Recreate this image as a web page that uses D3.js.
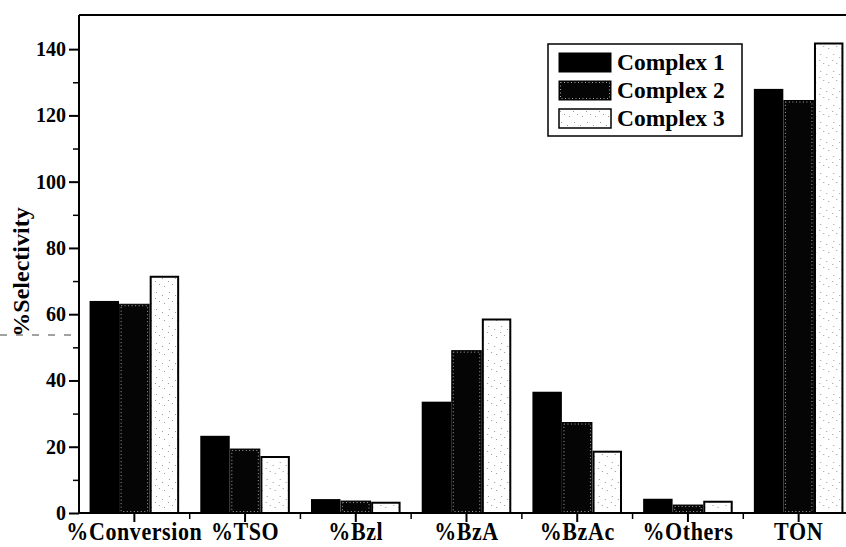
<!DOCTYPE html>
<html>
<head>
<meta charset="utf-8">
<script src="https://cdn.jsdelivr.net/npm/d3@7/dist/d3.min.js"></script>
<style>
  html, body { margin: 0; padding: 0; background: #fff; }
  svg { display: block; }
  text { font-family: "Liberation Serif", "Times New Roman", serif; font-weight: bold; fill: #000; }
</style>
</head>
<body>
<svg id="chart" width="846" height="547"></svg>
<script>
// Selectivity / conversion results for the three complexes
const categories = ["%Conversion", "%TSO", "%Bzl", "%BzA", "%BzAc", "%Others", "TON"];
const seriesNames = ["Complex 1", "Complex 2", "Complex 3"];
const complex1 = [64, 23.3, 4.2, 33.6, 36.6, 4.3, 128];
const complex2 = [63, 19.3, 3.6, 49, 27.3, 2.4, 124.5];
const complex3 = [71.6, 17.2, 3.4, 58.7, 18.8, 3.7, 142];
const yTicks = [0, 20, 40, 60, 80, 100, 120, 140];
const yMinorTicks = [10, 30, 50, 70, 90, 110, 130];

const series = [complex1, complex2, complex3];

const svg = d3.select("#chart");
const plotLeft = 79, plotRight = 854, plotTop = 16, plotBottom = 513;

const x0 = d3.scaleBand().domain(categories).range([plotLeft, plotRight])
  .paddingInner(0.18).paddingOuter(0.09);
const x1 = d3.scaleBand().domain(seriesNames).range([0, x0.bandwidth()]).padding(0.02);
const y = d3.scaleLinear().domain([0, 150]).range([plotBottom, plotTop]);

// speckled fill for the light bars
const defs = svg.append("defs");
const pat = defs.append("pattern").attr("id", "speck")
  .attr("width", 13).attr("height", 17).attr("patternUnits", "userSpaceOnUse");
pat.append("rect").attr("width", 13).attr("height", 17).attr("fill", "#fff");
[[2, 3], [8, 6], [5, 12], [10, 14], [1, 9]].forEach(([cx, cy]) =>
  pat.append("rect").attr("x", cx).attr("y", cy).attr("width", 1).attr("height", 1).attr("fill", "#999"));

// bars
const groups = svg.append("g").selectAll("g")
  .data(categories).join("g")
  .attr("transform", c => `translate(${x0(c)},0)`);

groups.each(function (c, ci) {
  const g = d3.select(this);
  seriesNames.forEach((s, si) => {
    const v = series[si][ci];
    const bx = x1(s), bw = x1.bandwidth();
    const by = y(v), bh = y(0) - y(v);
    if (si === 0) {
      g.append("rect").attr("x", bx).attr("y", by).attr("width", bw).attr("height", bh)
        .attr("fill", "#000");
    } else if (si === 1) {
      g.append("rect").attr("x", bx).attr("y", by).attr("width", bw).attr("height", bh)
        .attr("fill", "#050505").attr("stroke", "#000").attr("stroke-width", 1);
      if (bh > 5) {
        g.append("rect").attr("x", bx + 1.5).attr("y", by + 1.5)
          .attr("width", Math.max(bw - 3, 0)).attr("height", Math.max(bh - 3, 0))
          .attr("fill", "none").attr("stroke", "#cfcfcf").attr("stroke-width", 0.8)
          .attr("stroke-dasharray", "1,2.5");
      }
    } else {
      g.append("rect").attr("x", bx + 1).attr("y", by + 1).attr("width", bw - 2).attr("height", Math.max(bh - 1, 0))
        .attr("fill", "url(#speck)").attr("stroke", "#000").attr("stroke-width", 2);
    }
  });
});

// frame: top border
svg.append("line").attr("x1", plotLeft).attr("x2", 846).attr("y1", plotTop - 1).attr("y2", plotTop - 1)
  .attr("stroke", "#000").attr("stroke-width", 2);

// y axis
const yAxis = svg.append("g").attr("transform", `translate(${plotLeft},0)`)
  .call(d3.axisLeft(y).tickValues(yTicks).tickSize(10).tickPadding(3).tickFormat(d3.format("d")));
yAxis.select(".domain").attr("d", `M0,${plotTop - 1}V${plotBottom}`).attr("stroke-width", 2);
yAxis.selectAll(".tick line").attr("stroke-width", 2);
yAxis.selectAll(".tick text").attr("font-size", 20).attr("font-family", null);
svg.append("g").attr("transform", `translate(${plotLeft},0)`)
  .call(d3.axisLeft(y).tickValues(yMinorTicks).tickSize(6).tickFormat(""))
  .call(g => g.select(".domain").remove())
  .selectAll(".tick line").attr("stroke-width", 1.5);

// x axis
const xAxis = svg.append("g").attr("transform", `translate(0,${plotBottom})`)
  .call(d3.axisBottom(x0).tickSize(9).tickPadding(4));
xAxis.select(".domain").attr("d", `M${plotLeft},0H846`).attr("stroke-width", 2);
xAxis.selectAll(".tick line").attr("stroke-width", 2);
xAxis.selectAll(".tick text").attr("font-size", 22).attr("font-family", null)
  .attr("letter-spacing", "0.6px")
  .attr("y", 23.5).attr("dy", null)
  .attr("transform", "scale(1,1.15)");
// minor x ticks between categories
const bounds = categories.slice(0, -1).map(c => x0(c) + x0.bandwidth() / 2 + x0.step() / 2);
svg.append("g").selectAll("line").data(bounds).join("line")
  .attr("x1", d => d).attr("x2", d => d).attr("y1", plotBottom).attr("y2", plotBottom + 6)
  .attr("stroke", "#000").attr("stroke-width", 1.5);

// y axis title
svg.append("text")
  .attr("transform", `translate(29,272) rotate(-90)`)
  .attr("text-anchor", "middle").attr("font-size", 24)
  .text("%Selectivity");

// faint dashed stroke across the left margin
svg.append("line").attr("x1", 0).attr("x2", plotLeft - 2).attr("y1", 335).attr("y2", 335)
  .attr("stroke", "#444").attr("stroke-width", 1).attr("stroke-dasharray", "7,9");

// legend
const legend = svg.append("g");
legend.append("rect").attr("x", 548).attr("y", 44).attr("width", 194).attr("height", 92)
  .attr("fill", "#fff").attr("stroke", "#000").attr("stroke-width", 1.5);
const fills = ["#000", "#050505", "url(#speck)"];
seriesNames.forEach((s, i) => {
  const ry = 53 + i * 28;
  legend.append("rect").attr("x", 559).attr("y", ry).attr("width", 52).attr("height", 19)
    .attr("fill", fills[i]).attr("stroke", "#000").attr("stroke-width", i === 2 ? 1.5 : 1);
  if (i === 1) {
    legend.append("rect").attr("x", 560.5).attr("y", ry + 1.5).attr("width", 49).attr("height", 16)
      .attr("fill", "none").attr("stroke", "#cfcfcf").attr("stroke-width", 0.8)
      .attr("stroke-dasharray", "1,2.5");
  }
  legend.append("text").attr("x", 617).attr("y", ry + 17)
    .attr("font-size", 23.5).text(s);
});
</script>
</body>
</html>
